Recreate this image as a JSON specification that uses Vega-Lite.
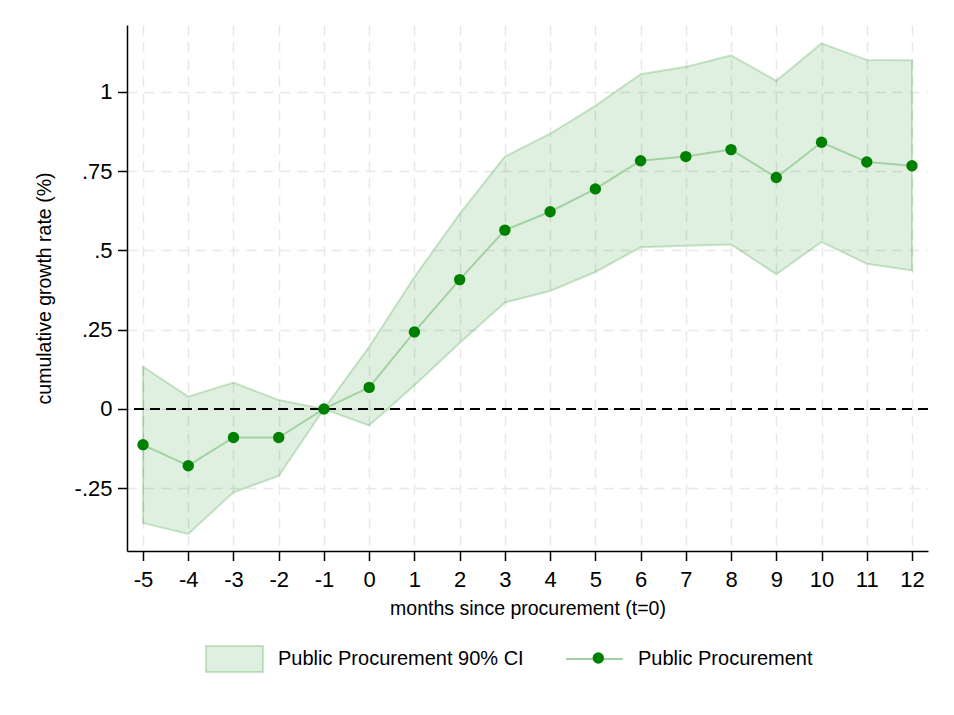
{
  "$schema": "https://vega.github.io/schema/vega-lite/v6.json",
  "autosize": {"type": "none"},
  "width": 801,
  "height": 526,
  "padding": {"left": 127, "top": 25, "right": 26, "bottom": 164},
  "background": "white",
  "config": {
    "view": {"stroke": null},
    "font": "Liberation Sans",
    "axis": {
      "domainColor": "black",
      "domainWidth": 1.5,
      "tickColor": "black",
      "tickWidth": 1.5,
      "tickSize": 9.5,
      "labelColor": "black",
      "labelFont": "Liberation Sans",
      "labelFontSize": 22,
      "titleFont": "Liberation Sans",
      "titleFontSize": 19.5,
      "titleFontWeight": "normal",
      "titleColor": "black",
      "gridColor": "#e8e8e8",
      "gridWidth": 1.5,
      "gridDash": [10, 7]
    },
    "legend": {
      "orient": "none",
      "title": null,
      "padding": 0,
      "labelLimit": 0,
      "labelFontSize": 20,
      "labelFont": "Liberation Sans",
      "labelColor": "black"
    }
  },
  "data": {
    "values": [
      {"month": -5, "est": -0.113, "lo": -0.36, "hi": 0.133},
      {"month": -4, "est": -0.179, "lo": -0.394, "hi": 0.039},
      {"month": -3, "est": -0.09, "lo": -0.263, "hi": 0.083},
      {"month": -2, "est": -0.09, "lo": -0.211, "hi": 0.028},
      {"month": -1, "est": 0, "lo": 0, "hi": 0},
      {"month": 0, "est": 0.068, "lo": -0.052, "hi": 0.196},
      {"month": 1, "est": 0.243, "lo": 0.075, "hi": 0.416},
      {"month": 2, "est": 0.408, "lo": 0.208, "hi": 0.615},
      {"month": 3, "est": 0.564, "lo": 0.336, "hi": 0.796},
      {"month": 4, "est": 0.622, "lo": 0.372, "hi": 0.868},
      {"month": 5, "est": 0.694, "lo": 0.432, "hi": 0.956},
      {"month": 6, "est": 0.783, "lo": 0.51, "hi": 1.056},
      {"month": 7, "est": 0.796, "lo": 0.515, "hi": 1.079},
      {"month": 8, "est": 0.818, "lo": 0.519, "hi": 1.115},
      {"month": 9, "est": 0.73, "lo": 0.425, "hi": 1.035},
      {"month": 10, "est": 0.841, "lo": 0.527, "hi": 1.153},
      {"month": 11, "est": 0.779, "lo": 0.458, "hi": 1.101},
      {"month": 12, "est": 0.767, "lo": 0.437, "hi": 1.1}
    ]
  },
  "layer": [
    {
      "mark": {"type": "area", "fillOpacity": 0.12, "stroke": "#008000", "strokeOpacity": 0.2, "strokeWidth": 2},
      "encoding": {
        "x": {
          "field": "month",
          "type": "quantitative",
          "scale": {"domain": [-5.354, 12.354], "nice": false, "zero": false},
          "axis": {
            "values": [-5, -4, -3, -2, -1, 0, 1, 2, 3, 4, 5, 6, 7, 8, 9, 10, 11, 12],
            "labelExpr": "toString(datum.value)",
            "labelPadding": 9,
            "labelFlush": false,
            "labelOverlap": false,
            "title": "months since procurement (t=0)",
            "titleX": 400.5,
            "titleY": 57,
            "titleAlign": "center",
            "titleBaseline": "middle"
          }
        },
        "y": {
          "field": "lo",
          "type": "quantitative",
          "scale": {"domain": [-0.448, 1.211], "nice": false, "zero": false},
          "axis": {
            "values": [-0.25, 0, 0.25, 0.5, 0.75, 1],
            "labelExpr": "replace(toString(datum.value), '0.', '.')",
            "labelPadding": 5.5,
            "title": "cumulative growth rate (%)",
            "titleX": -83,
            "titleY": 263,
            "titleAngle": 270,
            "titleAlign": "center",
            "titleBaseline": "middle"
          }
        },
        "y2": {"field": "hi"},
        "fill": {
          "datum": "Public Procurement 90% CI",
          "type": "nominal",
          "scale": {"range": ["#008000"]},
          "legend": {
            "legendX": 78,
            "legendY": 604.5,
            "symbolType": "M-1,-0.456H1V0.456H-1Z",
            "symbolSize": 3249,
            "symbolStrokeColor": "#008000",
            "symbolStrokeWidth": 2,
            "labelOffset": 14,
            "encode": {"symbols": {"update": {"fillOpacity": {"value": 0.12}, "strokeOpacity": {"value": 0.2}, "opacity": {"value": 1}}}}
          }
        }
      }
    },
    {
      "mark": {"type": "rule", "color": "black", "strokeWidth": 2, "strokeDash": [10, 6]},
      "encoding": {"y": {"datum": 0}}
    },
    {
      "mark": {"type": "line", "strokeWidth": 2},
      "encoding": {
        "x": {"field": "month", "type": "quantitative"},
        "y": {"field": "est", "type": "quantitative"},
        "stroke": {
          "datum": "Public Procurement",
          "type": "nominal",
          "scale": {"range": ["#a3d1a3"]},
          "legend": {
            "legendX": 438,
            "legendY": 604.5,
            "symbolType": "stroke",
            "symbolSize": 3249,
            "symbolStrokeWidth": 2,
            "labelOffset": 14
          }
        }
      }
    },
    {
      "mark": {"type": "point", "filled": true, "fill": "#008000", "size": 130, "opacity": 1},
      "encoding": {
        "x": {"field": "month", "type": "quantitative"},
        "y": {"field": "est", "type": "quantitative"},
        "shape": {
          "datum": "dot",
          "type": "nominal",
          "scale": {"range": ["circle"]},
          "legend": {
            "legendX": 461.3,
            "legendY": 623,
            "symbolSize": 130,
            "symbolFillColor": "#008000",
            "symbolStrokeWidth": 0,
            "symbolOpacity": 1,
            "labelOpacity": 0
          }
        }
      }
    }
  ]
}
